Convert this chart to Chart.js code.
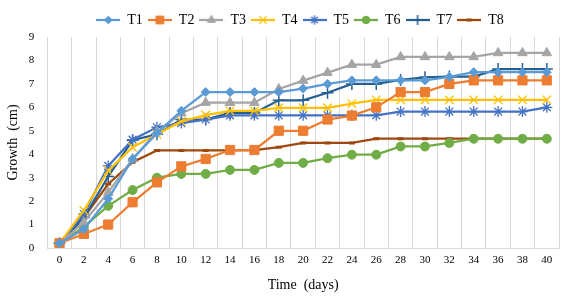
<!DOCTYPE html>
<html>
<head>
<meta charset="utf-8">
<script src="https://cdn.jsdelivr.net/npm/chart.js@4/dist/chart.umd.min.js"></script>
<style>
  html, body { margin: 0; padding: 0; background: #fff; }
  #wrap { width: 573px; height: 296px; position: relative; }
</style>
</head>
<body>
<div id="wrap"><canvas id="myChart"></canvas></div>
<script>
// growth curves, Excel-like line chart with markers

const days = ['0', '2', '4', '6', '8', '10', '12', '14', '16', '18', '20',
              '22', '24', '26', '28', '30', '32', '34', '36', '38', '40'];

const t1 = [0.2, 0.8, 2.1, 3.8, 4.9, 5.85, 6.65, 6.65, 6.65, 6.65, 6.8, 7.0, 7.15, 7.15, 7.15, 7.15, 7.3, 7.5, 7.5, 7.5, 7.5];
const t2 = [0.2, 0.6, 1.0, 1.95, 2.8, 3.48, 3.8, 4.18, 4.18, 5.0, 5.0, 5.48, 5.65, 6.0, 6.65, 6.65, 7.0, 7.15, 7.15, 7.15, 7.15];
const t3 = [0.2, 1.1, 2.37, 3.8, 4.95, 5.75, 6.2, 6.2, 6.2, 6.78, 7.14, 7.48, 7.82, 7.82, 8.15, 8.15, 8.15, 8.15, 8.32, 8.32, 8.32];
const t4 = [0.2, 1.6, 3.3, 4.3, 4.85, 5.4, 5.67, 5.85, 5.85, 5.98, 5.98, 5.98, 6.16, 6.32, 6.32, 6.32, 6.32, 6.32, 6.32, 6.32, 6.32];
const t5 = [0.2, 1.45, 3.5, 4.62, 5.15, 5.33, 5.48, 5.66, 5.66, 5.66, 5.66, 5.66, 5.66, 5.66, 5.82, 5.82, 5.82, 5.82, 5.82, 5.82, 6.0];
const t6 = [0.2, 0.9, 1.8, 2.47, 3.0, 3.16, 3.16, 3.33, 3.33, 3.63, 3.63, 3.83, 3.98, 3.98, 4.33, 4.33, 4.48, 4.66, 4.66, 4.66, 4.66];
const t7 = [0.2, 1.3, 3.05, 4.6, 4.85, 5.48, 5.48, 5.76, 5.76, 6.3, 6.3, 6.62, 7.0, 7.0, 7.17, 7.28, 7.31, 7.31, 7.63, 7.63, 7.63];
const t8 = [0.2, 1.3, 2.73, 3.66, 4.16, 4.16, 4.16, 4.16, 4.18, 4.3, 4.48, 4.48, 4.48, 4.66, 4.66, 4.66, 4.66, 4.66, 4.66, 4.66, 4.66];

const yTicks = [0, 1, 2, 3, 4, 5, 6, 7, 8, 9];

const series = [
    { label: 'T1', data: t1, color: '#5B9BD5', style: 'rectRot', radius: 4.5, bw: 1 },
    { label: 'T2', data: t2, color: '#ED7D31', style: 'rect', radius: 6.5, bw: 1 },
    { label: 'T3', data: t3, color: '#A5A5A5', style: 'triangle', radius: 5.5, bw: 1 },
    { label: 'T4', data: t4, color: '#FFC000', style: 'crossRot', radius: 6, bw: 1.3 },
    { label: 'T5', data: t5, color: '#4472C4', style: 'star', radius: 5.5, bw: 1.3 },
    { label: 'T6', data: t6, color: '#70AD47', style: 'circle', radius: 4.5, bw: 1 },
    { label: 'T7', data: t7, color: '#255E91', style: 'cross', radius: 6, bw: 1.5 },
    { label: 'T8', data: t8, color: '#9E480E', style: 'line', radius: 3, bw: 3 }
];

const serif = 'Liberation Serif, Times New Roman, serif';

// small line + marker image for the legend, like Excel does
const legendIcon = (s) => {
    const c = document.createElement('canvas');
    c.width = 24;
    c.height = 14;
    const g = c.getContext('2d');
    g.strokeStyle = s.color;
    g.fillStyle = s.color;
    g.lineWidth = 2.25;
    g.beginPath();
    g.moveTo(0, 7);
    g.lineTo(24, 7);
    g.stroke();
    g.lineWidth = s.bw;
    Chart.helpers.drawPoint(g, { pointStyle: s.style, radius: s.radius * 0.85, rotation: 0, borderWidth: s.bw }, 12, 7);
    return c;
};

const shiftLegend = {
    id: 'shiftLegend',
    afterLayout(chart) {
        chart.legend.left += 18;
        chart.legend.right += 18;
    }
};

const ctx = document.getElementById('myChart');
const myChart = new Chart(ctx, {
    type: 'line',
    data: {
        labels: days,
        datasets: series.map(s => ({
            label: s.label,
            data: s.data,
            borderColor: s.color,
            backgroundColor: s.color,
            borderWidth: 2.25,
            pointStyle: s.style,
            pointRadius: s.radius,
            pointBorderWidth: s.bw,
            pointBackgroundColor: s.color,
            pointBorderColor: s.color,
            tension: 0
        }))
    },
    options: {
        responsive: true,
        maintainAspectRatio: false,
        animation: false,
        layout: { padding: { top: 8, right: 14, left: 5, bottom: 2 } },
        plugins: {
            legend: {
                position: 'top',
                labels: {
                    color: '#000',
                    font: { family: serif, size: 14 },
                    usePointStyle: true,
                    pointStyleWidth: 24,
                    boxHeight: 14,
                    padding: 5,
                    generateLabels: (chart) => series.map((s, i) => ({
                        text: s.label,
                        datasetIndex: i,
                        pointStyle: legendIcon(s),
                        fontColor: '#000',
                        hidden: false,
                        lineWidth: 0,
                        strokeStyle: s.color,
                        fillStyle: s.color
                    }))
                }
            },
            tooltip: { enabled: false }
        },
        scales: {
            x: {
                offset: true,
                grid: { offset: true, color: '#D9D9D9', drawTicks: false },
                border: { color: '#D9D9D9' },
                ticks: { color: '#000', font: { family: serif, size: 11 }, padding: 6, maxRotation: 0, autoSkip: false },
                title: { display: true, text: 'Time  (days)', color: '#000', font: { family: serif, size: 14 }, padding: { top: 4, bottom: 0 } }
            },
            y: {
                min: 0,
                max: 9,
                grid: { display: false },
                border: { display: false },
                afterBuildTicks: (axis) => { axis.ticks = yTicks.map(v => ({ value: v })); },
                ticks: { color: '#000', font: { family: serif, size: 11 }, padding: 5 },
                title: { display: true, text: 'Growth  (cm)', color: '#000', font: { family: serif, size: 14 }, padding: { top: 0, bottom: 2 } }
            }
        }
    },
    plugins: [shiftLegend]
});
</script>
</body>
</html>
